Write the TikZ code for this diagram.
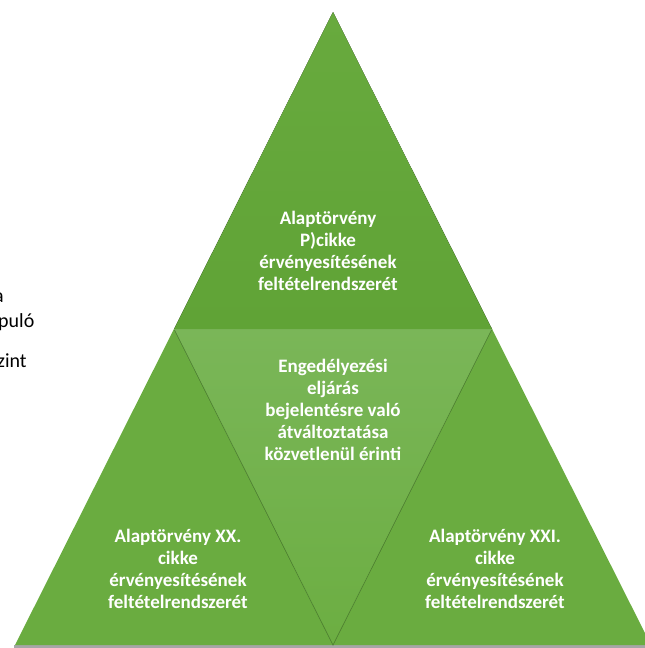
\documentclass[tikz,border=0pt]{standalone}
\usepackage{fontspec}
\setmainfont{Carlito}
\definecolor{topA}{RGB}{104,170,62}
\definecolor{topB}{RGB}{96,163,54}
\definecolor{botG}{RGB}{106,172,64}
\definecolor{midA}{RGB}{122,182,88}
\definecolor{midB}{RGB}{108,174,66}
\definecolor{edgeG}{RGB}{70,125,40}
\definecolor{seamG}{RGB}{120,178,86}
\begin{document}
\begin{tikzpicture}[x=1pt,y=-1pt,
  lbl/.style={text=white,font=\bfseries\fontsize{19}{22}\selectfont,align=center},
  side/.style={text=black,font=\fontsize{20}{22}\selectfont,anchor=base west,inner sep=0pt},
  edge/.style={draw=edgeG,line width=0.8pt,opacity=0.5}]
\useasboundingbox (0,0) rectangle (645,648);
\coordinate (A) at (333,12);
\coordinate (L) at (15,645);
\coordinate (R) at (651,645);
\coordinate (ML) at (174,329);
\coordinate (MR) at (492,329);
\coordinate (MB) at (333,645);
% shadow band
\fill[gray!70] (14,645) rectangle (645,648);
% top
\fill[top color=topA,bottom color=topB] (A) -- (MR) -- (ML) -- cycle;
% bottom left
\fill[botG] (ML) -- (MB) -- (L) -- cycle;
% bottom right
\fill[botG] (MR) -- (R) -- (MB) -- cycle;
% middle
\fill[top color=midA,bottom color=midB] (ML) -- (MR) -- (MB) -- cycle;
\draw[edge] (ML) -- (MB) -- (MR);
\draw[draw=seamG,line width=0.6pt] (ML) -- (MR);
% texts
\node[lbl] (t) at (328,251) {Alaptörvény\\P)cikke\\érvényesítésének\\feltételrendszerét};
\node[lbl] (m) at (333,410) {Engedélyezési\\eljárás\\bejelentésre való\\átváltoztatása\\közvetlenül érinti};
\node[lbl] (bl) at (178,569) {Alaptörvény XX.\\cikke\\érvényesítésének\\feltételrendszerét};
\node[lbl] (br) at (495,569) {Alaptörvény XXI.\\cikke\\érvényesítésének\\feltételrendszerét};
\node[side] (s1) at (-6,302) {a};
\node[side] (s2) at (-2,327) {puló};
\node[side] (s3) at (-3,367) {zint};
\end{tikzpicture}
\end{document}
